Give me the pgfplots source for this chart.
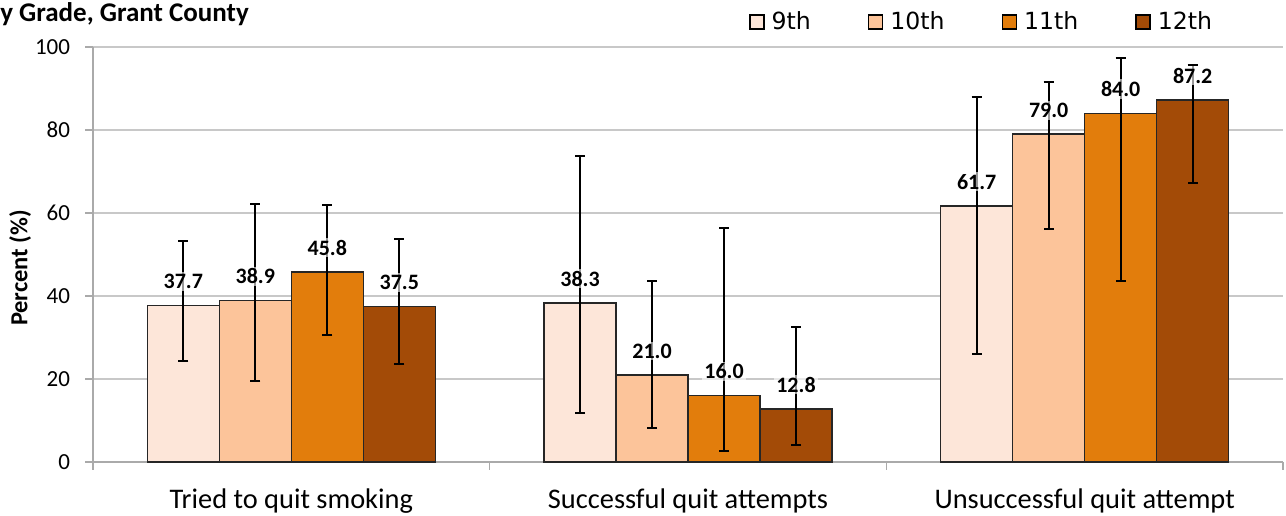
\documentclass[border=0pt]{standalone}
\usepackage{pgfplots}
\usepackage{pgfplotstable}
\pgfplotsset{compat=1.18}
\usepackage{fontspec}
\setmainfont{Carlito}
\newfontfamily\legfont{DejaVu Sans}
\definecolor{c9}{RGB}{253,230,217}
\definecolor{c10}{RGB}{252,196,154}
\definecolor{c11}{RGB}{226,125,12}
\definecolor{c12}{RGB}{163,75,7}
\definecolor{gridc}{RGB}{200,200,200}
\definecolor{axc}{RGB}{170,170,170}

\pgfplotstableread{
x y ep em
0 37.7 15.6 13.4
1 38.3 35.4 26.5
2 61.7 26.3 35.7
}\gnine
\pgfplotstableread{
x y ep em
0 38.9 23.3 19.4
1 21.0 22.6 12.8
2 79.0 12.6 22.9
}\gten
\pgfplotstableread{
x y ep em
0 45.8 16.1 15.2
1 16.0 40.4 13.3
2 84.0 13.3 40.4
}\geleven
\pgfplotstableread{
x y ep em
0 37.5 16.2 13.9
1 12.8 19.7 8.7
2 87.2 8.5 20.0
}\gtwelve

\begin{document}
\begin{tikzpicture}
\begin{axis}[
  scale only axis, width=595pt, height=207.5pt,
  ybar=0pt, bar width=0.1815,
  xmin=-0.5, xmax=2.5, ymin=0, ymax=100,
  axis x line*=bottom, axis y line*=left,
  axis line style={draw=axc, line width=0.75pt},
  tick style={draw=axc, line width=0.75pt},
  tick align=outside,
  major tick length=3.8pt,
  xtick={-0.5,0.5,1.5,2.5}, xticklabels={},
  extra x ticks={0,1,2},
  extra x tick labels={Tried to quit smoking, Successful quit attempts, Unsuccessful quit attempt},
  extra x tick style={major tick length=0pt, tick label style={font=\fontsize{14.2}{16}\selectfont, anchor=base, yshift=-23pt}},
  ytick={0,20,40,60,80,100},
  yticklabel style={font=\fontsize{11.5}{13}\selectfont, anchor=east, inner sep=0pt, xshift=-7.5pt},
  /pgf/number format/assume math mode=true,
  ymajorgrids, grid style={draw=gridc, line width=0.75pt},
  ylabel={Percent (\%)},
  ylabel style={font=\bfseries\fontsize{12.25}{14}\selectfont, at={(axis description cs:-0.0613,0.4675)}, anchor=center},
  error bars/y dir=both, error bars/y explicit,
  error bars/error bar style={black, line width=1pt},
  error bars/error mark options={rotate=90, black, mark size=2.5pt, line width=1pt},
  nodes near coords={\pgfmathprintnumber[fixed,fixed zerofill,precision=1,assume math mode=true]{\pgfplotspointmeta}},
  nodes near coords style={font=\bfseries\fontsize{11}{13}\selectfont, text=black, anchor=base, yshift=8.4pt, fill=white, fill opacity=0.6, text opacity=1, inner sep=1pt},
  legend columns=4,
  legend cell align=left,
  legend style={draw=none, fill=none, at={(axis description cs:0.5513,1)}, anchor=west, yshift=12.5pt, inner sep=0pt, outer sep=0pt, font=\legfont\fontsize{11.8}{14}\selectfont, nodes={inner sep=0pt}, /tikz/every odd column/.append style={column sep=3.5pt}, /tikz/every even column/.append style={column sep=28.5pt}},
  legend image code/.code={\draw[#1, draw=black, line width=0.75pt] (0pt,-3.5pt) rectangle (7pt,3.5pt);},
]
\addplot[fill=c9, draw=black!85, line width=0.75pt] table[x=x,y=y,y error plus=ep,y error minus=em]{\gnine};
\addlegendentry{9th}
\addplot[fill=c10, draw=black!85, line width=0.75pt] table[x=x,y=y,y error plus=ep,y error minus=em]{\gten};
\addlegendentry{10th}
\addplot[fill=c11, draw=black!85, line width=0.75pt] table[x=x,y=y,y error plus=ep,y error minus=em]{\geleven};
\addlegendentry{11th}
\addplot[fill=c12, draw=black!85, line width=0.75pt] table[x=x,y=y,y error plus=ep,y error minus=em]{\gtwelve};
\addlegendentry{12th}
\end{axis}
\node[anchor=base west, font=\bfseries\fontsize{13.5}{16}\selectfont, inner sep=0pt] at ([xshift=-54pt,yshift=12.65pt]current axis.north west) {By Grade, Grant County};
\pgfresetboundingbox
\path ([xshift=-46.5pt,yshift=-26.5pt]current axis.south west) rectangle ([xshift=1.5pt,yshift=23.5pt]current axis.north east);
\end{tikzpicture}
\end{document}
